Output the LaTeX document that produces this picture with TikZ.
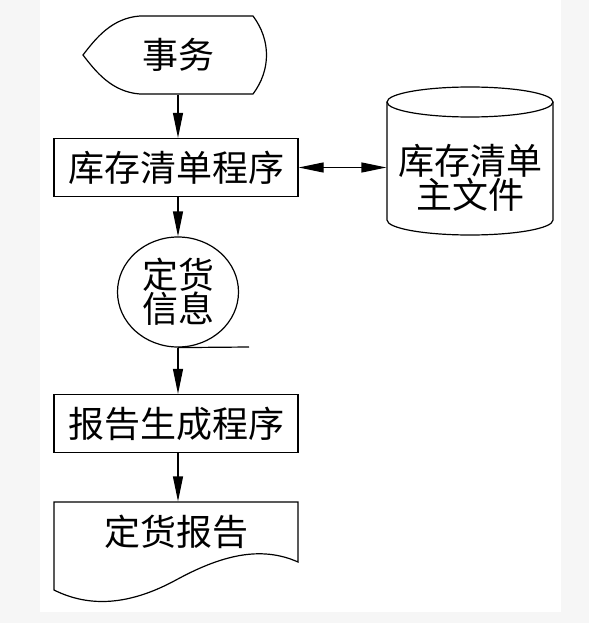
\documentclass[tikz,border=0pt]{standalone}
\usepackage{fontspec}
\newfontfamily\cjk{Noto Sans CJK SC}
\usetikzlibrary{arrows.meta,shapes.geometric}
\begin{document}
\begin{tikzpicture}[x=1pt,y=-1pt,
  line width=1.2pt,
  lbl/.style={font=\cjk\fontsize{36}{34}\selectfont, inner sep=0pt, align=center},
  proc/.style={draw, minimum width=244pt, minimum height=58pt, inner sep=0pt, font=\cjk\fontsize{36}{34}\selectfont},
  arr/.style={-{Triangle[length=25pt,width=10pt]}},
  darr/.style={{Triangle[length=25pt,width=10pt]}-{Triangle[length=25pt,width=10pt]}}
]
% page
\fill[gray!7] (0,0) rectangle (589,623);
\fill[white] (40,0) rectangle (561,612);
\useasboundingbox (0,0) rectangle (589,623);

% transaction shape
\node[lbl, minimum width=184pt, minimum height=78pt] (tr) at (178,55) {事务};
\draw (140,16) -- (253,16) .. controls (271,40) and (271,70) .. (253,94)
  -- (140,94) .. controls (112,92) and (96,72) .. (83,55)
  .. controls (96,38) and (112,18) .. (140,16) -- cycle;

% inventory program
\node[proc] (inv) at (176,167.5) {库存清单程序};

% master file (cylinder)
\node[lbl, minimum width=166pt, minimum height=148pt] (db) at (470,178) {库存清单\\主文件};
\draw (470,102) ellipse [x radius=83, y radius=15];
\draw (387,102) -- (387,220)
  .. controls (387,228.3) and (424.2,235) .. (470,235)
  .. controls (515.8,235) and (553,228.3) .. (553,220) -- (553,102);

% order info
\node[lbl, draw, ellipse, minimum width=121pt, minimum height=110pt] (info) at (178,292) {定货\\信息};
\coordinate (tail) at (249,347);

% report program
\node[proc] (rep) at (176,423.5) {报告生成程序};

% document
\node[lbl, minimum width=244pt, minimum height=60pt] (doc) at (176,532) {定货报告};
\draw (54,502) -- (298,502) -- (298,562)
  .. controls (260,545) and (220,556) .. (176,580)
  .. controls (130,605) and (90,608) .. (54,590) -- cycle;

% connectors
\draw[arr] (tr.south) -- (tr.south |- inv.north);
\draw[darr] (inv.east) -- (inv.east -| db.west);
\draw[arr] (tr.south |- inv.south) -- (info.north);
\draw (info.south) -- (tail);
\draw[arr] (info.south) -- (info.south |- rep.north);
\draw[arr] (info.south |- rep.south) -- (info.south |- doc.north);
\end{tikzpicture}
\end{document}
